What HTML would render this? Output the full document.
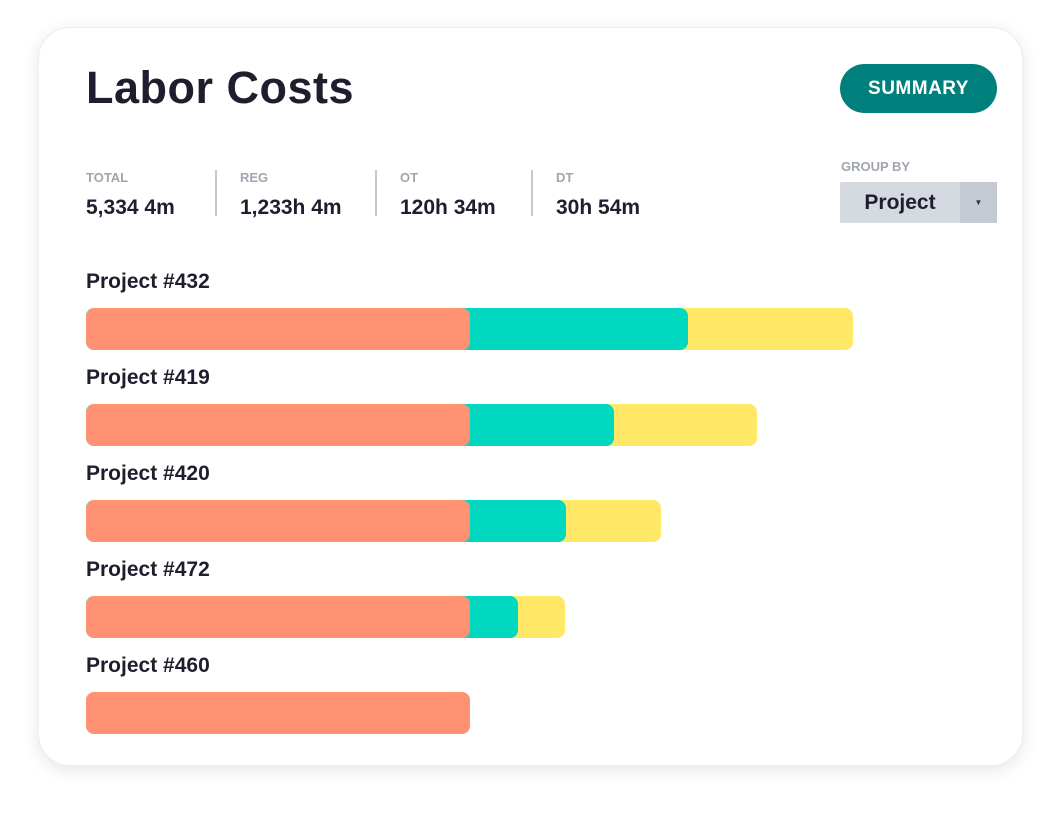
<!DOCTYPE html>
<html><head><meta charset="utf-8"><style>
body{margin:0;width:1061px;height:815px;background:#fff;font-family:"Liberation Sans",sans-serif;position:relative;overflow:hidden}
.card{position:absolute;left:38px;top:27px;width:985px;height:739px;border-radius:32px;background:#fff;box-shadow:0 4px 18px rgba(0,0,0,0.10);border:1px solid #eee;box-sizing:border-box}
.abs{position:absolute}
h1{position:absolute;left:86px;top:62px;margin:0;font-size:45px;font-weight:700;color:#1e1e2e;letter-spacing:0.5px}
.btn{left:840px;top:64px;width:157px;height:49px;border-radius:25px;background:#007f7c;color:#fff;font-weight:700;font-size:19px;text-align:center;line-height:49px;letter-spacing:0.5px}
.lab{font-size:13px;font-weight:700;color:#a0a5ae}
.val{font-size:21px;font-weight:700;color:#1e1e2e}
.sep{width:2px;height:46px;background:#c5cad1;top:170px}
.plabel{font-size:21px;font-weight:700;color:#1e1e2e;left:86px}
</style></head><body>
<div class="card"></div>
<h1>Labor Costs</h1>
<div class="abs btn">SUMMARY</div>
<div class="abs lab" style="left:86px;top:170px">TOTAL</div>
<div class="abs val" style="left:86px;top:196px">5,334 4m</div>
<div class="abs sep" style="left:215px"></div>
<div class="abs lab" style="left:240px;top:170px">REG</div>
<div class="abs val" style="left:240px;top:196px">1,233h 4m</div>
<div class="abs sep" style="left:375px"></div>
<div class="abs lab" style="left:400px;top:170px">OT</div>
<div class="abs val" style="left:400px;top:196px">120h 34m</div>
<div class="abs sep" style="left:531px"></div>
<div class="abs lab" style="left:556px;top:170px">DT</div>
<div class="abs val" style="left:556px;top:196px">30h 54m</div>
<div class="abs lab" style="left:841px;top:159px">GROUP BY</div>
<div class="abs" style="left:840px;top:182px;width:157px;height:41px;background:#d5d9e0;border-radius:2px">
<div class="abs" style="left:0;top:0;width:120px;height:41px;line-height:41px;text-align:center;font-size:21px;font-weight:700;color:#1e1e2e">Project</div>
<div class="abs" style="left:120px;top:0;width:37px;height:41px;background:#c5cad2;line-height:41px;text-align:center;font-size:8px;color:#333">▼</div>
</div>
<div id="chart"></div>
<script>
const categories=["Project #432","Project #419","Project #420","Project #472","Project #460"];
const regValues=[80,80,80,80,80];
const otValues=[45.4,30,20,10,0];
const dtValues=[34.4,29.8,19.8,9.8,0];
const x0=86, unit=4.8;
function x(v){return x0+v*unit;}
const chart=document.getElementById('chart');
function bar(l,r,top,color,name){
 const d=document.createElement('div');
 
 
 d.className='abs';
 d.style.cssText=`left:${l}px;top:${top}px;width:${r-l}px;height:42px;border-radius:8px;background:${color}`;
 chart.appendChild(d);
}
categories.forEach((c,i)=>{
 const top=308+i*96;
 const t=document.createElement('div');
 
 
 t.className='abs plabel';t.style.top=(top-38)+'px';t.textContent=c;
 chart.appendChild(t);
 const r=regValues[i],o=otValues[i],d=dtValues[i];
 if(d>0) bar(x0,x(r+o+d),top,'#ffe866','bar-dt');
 if(o>0) bar(x0,x(r+o),top,'#00d9c0','bar-ot');
 bar(x0,x(r),top,'#ff9272','bar-reg');
});
</script>
</body></html>
